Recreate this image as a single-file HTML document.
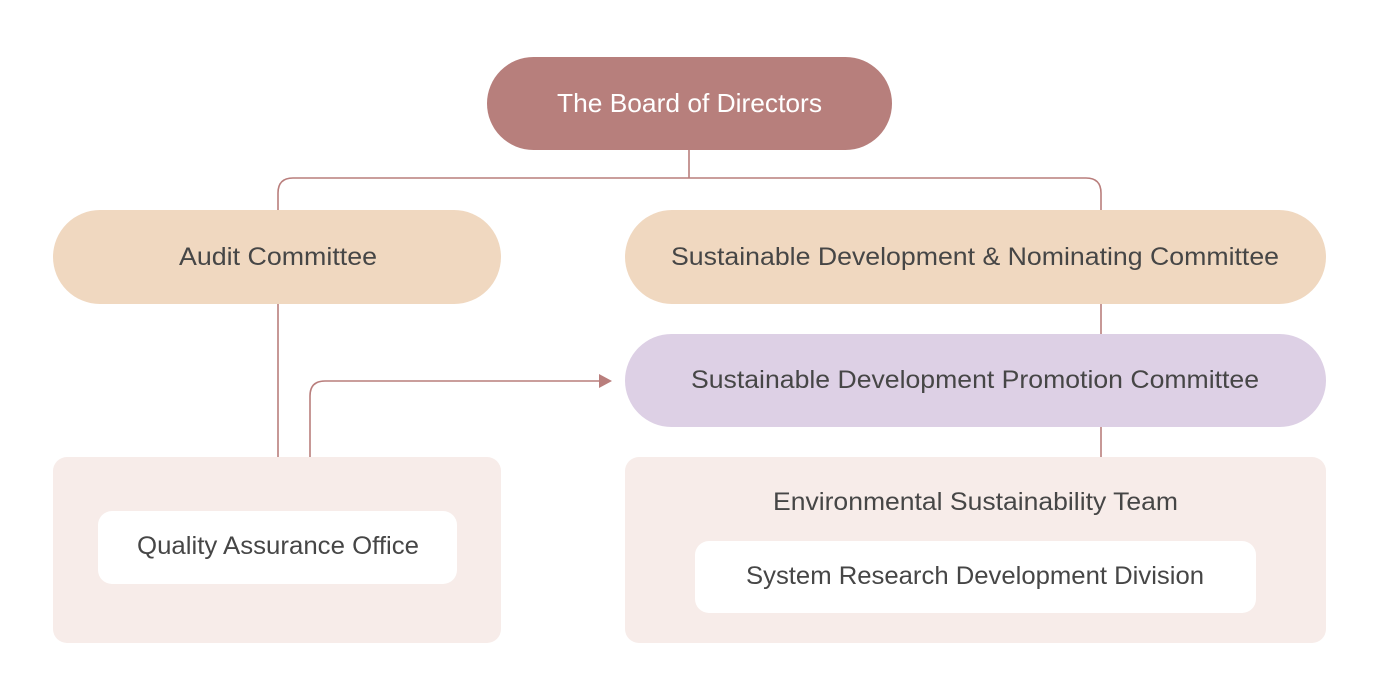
<!DOCTYPE html>
<html><head><meta charset="utf-8"><style>
html,body{margin:0;padding:0;background:#fff;}
svg{display:block;}
text{font-family:"Liberation Sans",sans-serif;font-size:25px;fill:#464646;text-anchor:middle;dominant-baseline:central;}
</style></head><body>
<svg width="1380" height="699" viewBox="0 0 1380 699">
<g fill="none" stroke="#b97e7c" stroke-width="1.6">
<path d="M689 150 V178"/>
<path d="M278 210 V193 Q278 178 293 178 H1086 Q1101 178 1101 193 V210"/>
<path d="M278 304 V457"/>
<path d="M1101 304 V334"/>
<path d="M1101 427 V457"/>
<path d="M310 457 V396 Q310 381 325 381 H600"/>
</g>
<path d="M599 374 L612 381 L599 388 Z" fill="#b97e7c"/>
<rect x="487" y="57" width="405" height="93" rx="46.5" fill="#b77f7c"/>
<text x="689.5" y="103" textLength="265" lengthAdjust="spacingAndGlyphs" style="fill:#fff;font-size:26px">The Board of Directors</text>
<rect x="53" y="210" width="448" height="94" rx="47" fill="#f0d8c0"/>
<text x="278" y="257" textLength="198" lengthAdjust="spacingAndGlyphs">Audit Committee</text>
<rect x="625" y="210" width="701" height="94" rx="47" fill="#f0d8c0"/>
<text x="975" y="257" textLength="608" lengthAdjust="spacingAndGlyphs">Sustainable Development &amp; Nominating Committee</text>
<rect x="625" y="334" width="701" height="93" rx="46.5" fill="#ddd0e5"/>
<text x="975" y="380" textLength="568" lengthAdjust="spacingAndGlyphs">Sustainable Development Promotion Committee</text>
<rect x="53" y="457" width="448" height="186" rx="14" fill="#f7ece9"/>
<rect x="98" y="511" width="359" height="73" rx="14" fill="#fff"/>
<text x="278" y="546" textLength="282" lengthAdjust="spacingAndGlyphs">Quality Assurance Office</text>
<rect x="625" y="457" width="701" height="186" rx="14" fill="#f7ece9"/>
<text x="975.5" y="502" textLength="405" lengthAdjust="spacingAndGlyphs">Environmental Sustainability Team</text>
<rect x="695" y="541" width="561" height="72" rx="14" fill="#fff"/>
<text x="975" y="576" textLength="458" lengthAdjust="spacingAndGlyphs">System Research Development Division</text>
</svg>
</body></html>
